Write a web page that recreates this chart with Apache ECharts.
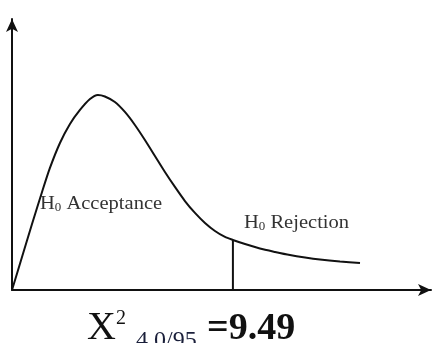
<!DOCTYPE html>
<html>
<head>
<meta charset="utf-8">
<script src="https://cdn.jsdelivr.net/npm/echarts@6/dist/echarts.min.js"></script>
<style>
html,body{margin:0;padding:0;background:#fff;}
#chart{width:438px;height:343px;}
</style>
</head>
<body>
<div id="chart"></div>
<script>
// Chi-square curve (x in chi-square units, y density)
var curveX = [0, 0.43, 0.86, 1.29, 1.63, 2.06, 2.49, 2.92, 3.35, 3.69, 3.99, 4.42, 4.85, 5.28, 5.71, 6.14, 6.57, 7.00, 7.43, 7.86, 8.29, 8.72, 9.15, 9.49, 10.01, 10.65, 11.30, 11.94, 12.59, 13.23, 14.09, 14.95];
var curveY = [0, 0.0365, 0.0731, 0.1085, 0.1351, 0.1627, 0.1838, 0.1993, 0.2114, 0.2159, 0.2142, 0.2081, 0.1971, 0.1827, 0.1661, 0.1484, 0.1307, 0.1141, 0.0985, 0.0853, 0.0742, 0.0653, 0.0587, 0.0554, 0.0509, 0.0459, 0.0421, 0.0387, 0.0360, 0.0338, 0.0316, 0.0299];
var criticalValue = 9.49;
var criticalY = 0.0554;
var acceptLabel = 'Acceptance';
var rejectLabel = 'Rejection';
var formulaMain = 'X';
var formulaSup = '2';
var formulaSub = '4 0/95';
var formulaValue = '=9.49';

var curveData = curveX.map(function (x, i) { return [x, curveY[i]]; });
var serif = '"Liberation Serif", "Times New Roman", serif';
var ink = '#111';
var labelInk = '#333';

var chart = echarts.init(document.getElementById('chart'), null, {renderer: 'canvas'});
var axisCommon = {
  type: 'value',
  min: 0,
  axisLine: {show: true, symbol: ['none', 'arrow'], symbolSize: [9, 13], lineStyle: {color: ink, width: 2}},
  axisTick: {show: false},
  axisLabel: {show: false},
  splitLine: {show: false}
};
function h0Label(word, x, y) {
  return {
    type: 'text', x: x, y: y, scaleX: 1.08,
    style: {
      text: '{a|H}{b|0}{a| ' + word + '}',
      verticalAlign: 'bottom', align: 'left',
      rich: {
        a: {fontFamily: serif, fontSize: 19, fill: labelInk, lineHeight: 19},
        b: {fontFamily: serif, fontSize: 12, fill: labelInk, lineHeight: 12, verticalAlign: 'bottom'}
      }
    }
  };
}
chart.setOption({
  animation: false,
  backgroundColor: '#fff',
  grid: {left: 12, right: 7, top: 19, bottom: 53},
  xAxis: Object.assign({}, axisCommon, {max: 18}),
  yAxis: Object.assign({}, axisCommon, {max: 0.3}),
  series: [
    {
      type: 'line',
      data: curveData,
      smooth: 0.25,
      showSymbol: false,
      lineStyle: {color: ink, width: 2}
    },
    {
      type: 'line',
      data: [[criticalValue, 0], [criticalValue, criticalY]],
      showSymbol: false,
      lineStyle: {color: ink, width: 2}
    }
  ],
  graphic: [
    h0Label(acceptLabel, 40, 214),
    h0Label(rejectLabel, 244, 233),
    {type: 'text', x: 87, y: 348, style: {text: formulaMain, fontFamily: serif, fontSize: 40, fill: ink, verticalAlign: 'bottom', align: 'left'}},
    {type: 'text', x: 116, y: 329, style: {text: formulaSup, fontFamily: serif, fontSize: 20, fill: ink, verticalAlign: 'bottom', align: 'left'}},
    {type: 'text', x: 136, y: 353, style: {text: formulaSub, fontFamily: serif, fontSize: 24, fill: '#1a1f3a', verticalAlign: 'bottom', align: 'left'}},
    {type: 'text', x: 207, y: 348, style: {text: formulaValue, fontFamily: serif, fontSize: 38, fontWeight: 'bold', fill: ink, verticalAlign: 'bottom', align: 'left'}}
  ]
});
</script>
</body>
</html>
